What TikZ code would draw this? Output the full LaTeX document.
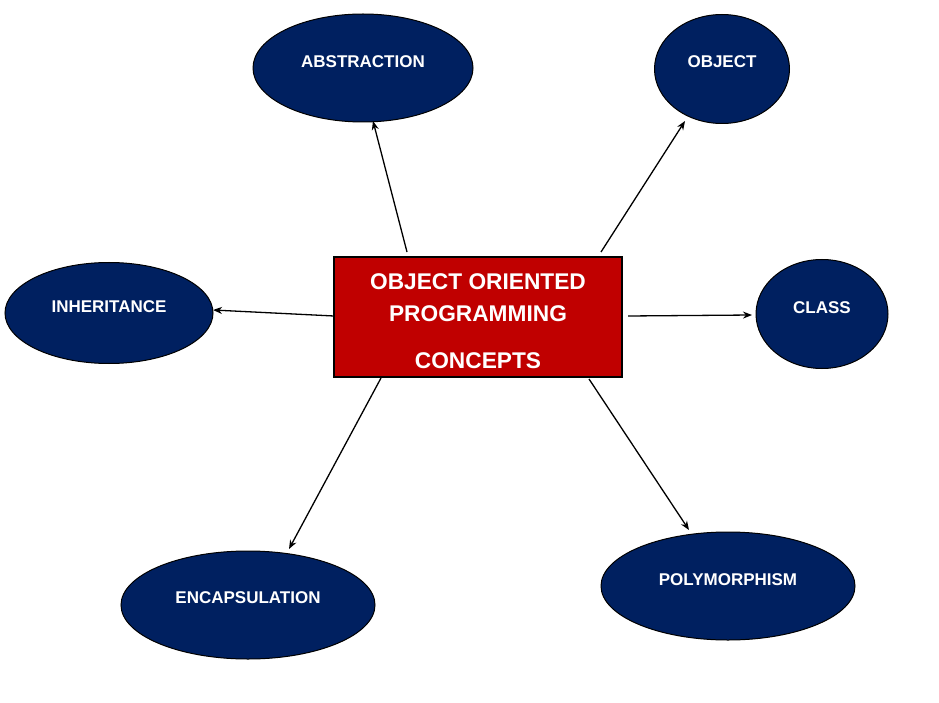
\documentclass[tikz,border=0pt]{standalone}
\usepackage{fontspec}
\setmainfont{Liberation Sans}
\usetikzlibrary{shapes.geometric,arrows.meta}
\definecolor{navy}{HTML}{002060}
\definecolor{boxred}{HTML}{C00000}
\begin{document}
\begin{tikzpicture}[x=1pt,y=-1pt,
  concept/.style={ellipse,draw=black,line width=1pt,fill=navy,inner sep=0pt},
  label/.style={text=white,inner sep=0pt,font=\fontsize{17}{20}\selectfont\bfseries},
  mainbox/.style={rectangle,draw=black,line width=1.4pt,fill=boxred,inner sep=0pt},
  link/.style={line width=1.3pt,-{Stealth[length=9pt,width=7pt]}}]
\useasboundingbox (0,0) rectangle (939,703);
\node[mainbox,minimum width=288pt,minimum height=120pt] (m) at (478,317) {};
\node[text=white,align=center,inner sep=0pt,font=\fontsize{22.7}{32}\selectfont\bfseries] (mt) at (478,321) {OBJECT ORIENTED\\PROGRAMMING\\[15pt]CONCEPTS};
\node[concept,minimum width=220pt,minimum height=108pt] (abs) at (363,68) {};
\node[label] (abst) at (363,62) {ABSTRACTION};
\node[concept,minimum width=135pt,minimum height=109pt] (obj) at (722,69) {};
\node[label] (objt) at (722,62) {OBJECT};
\node[concept,minimum width=208pt,minimum height=101pt] (inh) at (109,313) {};
\node[label] (inht) at (109,307) {INHERITANCE};
\node[concept,minimum width=132pt,minimum height=109pt] (cls) at (822,314) {};
\node[label] (clst) at (822,308) {CLASS};
\node[concept,minimum width=254pt,minimum height=108pt] (enc) at (248,605) {};
\node[label] (enct) at (248,598) {ENCAPSULATION};
\node[concept,minimum width=254pt,minimum height=108pt] (pol) at (728,586) {};
\node[label] (polt) at (728,580) {POLYMORPHISM};
\coordinate (s1) at (407,252);
\coordinate (s2) at (601,252);
\coordinate (s3) at (334,316);
\coordinate (s4) at (628,316);
\coordinate (s5) at (381,378);
\coordinate (s6) at (589,379);
\coordinate (e1) at (373,121);
\coordinate (e2) at (685,121);
\coordinate (e3) at (213,310);
\coordinate (e4) at (752,315);
\coordinate (e5) at (289,549);
\coordinate (e6) at (689,530);
\draw[link] (s1) -- (e1);
\draw[link] (s2) -- (e2);
\draw[link] (s3) -- (e3);
\draw[link] (s4) -- (e4);
\draw[link] (s5) -- (e5);
\draw[link] (s6) -- (e6);
\end{tikzpicture}
\end{document}
